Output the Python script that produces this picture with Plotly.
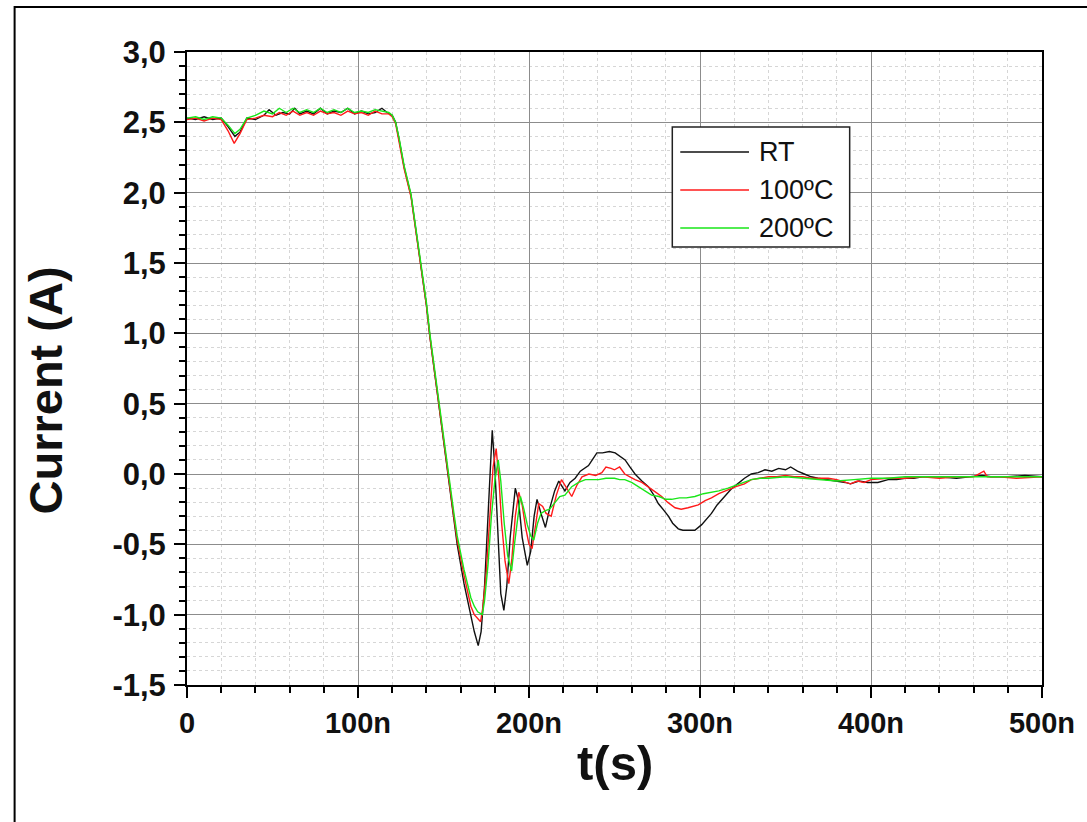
import plotly.graph_objects as go

# ---------------- data (time in ns, current in A) ----------------
t_rt = [0, 5, 10, 15, 20, 24, 28, 31, 35, 40, 45, 48, 52, 56, 60, 63, 66, 70, 74, 78, 82, 86, 90, 94, 98,
        102, 106, 110, 114, 117, 120, 122, 124, 127, 131, 134, 137, 140, 142, 145, 147, 150, 153, 156, 158,
        162, 166, 168, 170.3, 172, 174, 176, 178.5, 180, 182, 183.5, 185.3, 187, 189, 192, 194, 196, 199,
        201, 203, 204.7, 207, 209.6, 212, 215, 217.4, 219, 221, 224, 227, 230, 234.8, 237, 239.7, 243, 247,
        250.4, 253, 256.2, 259, 262, 266, 269.8, 273, 275.6, 279, 281.5, 284, 287.3, 290, 294, 297, 301,
        304, 306.7, 310, 314.5, 318, 322, 326, 330, 334, 338, 342, 346, 350, 353, 357, 361, 365, 369, 375,
        380, 385, 388, 393, 398, 404, 410, 415, 420, 425, 430, 440, 450, 460, 465, 470, 480, 490, 500]
i_rt = [2.53, 2.52, 2.54, 2.52, 2.53, 2.47, 2.40, 2.43, 2.53, 2.52, 2.55, 2.59, 2.55, 2.57, 2.56, 2.60,
        2.56, 2.58, 2.56, 2.60, 2.56, 2.58, 2.57, 2.60, 2.56, 2.58, 2.56, 2.57, 2.60, 2.57, 2.55, 2.50,
        2.38, 2.18, 1.98, 1.72, 1.47, 1.20, 0.98, 0.70, 0.50, 0.22, -0.03, -0.32, -0.50, -0.78, -1.02,
        -1.12, -1.22, -1.12, -0.80, -0.30, 0.31, 0.05, -0.50, -0.85, -0.97, -0.80, -0.45, -0.10, -0.20,
        -0.45, -0.65, -0.55, -0.30, -0.18, -0.28, -0.38, -0.25, -0.12, -0.05, -0.08, -0.12, -0.06, -0.03,
        0.02, 0.06, 0.10, 0.15, 0.15, 0.16, 0.15, 0.13, 0.10, 0.05, 0.0, -0.05, -0.09, -0.15, -0.21, -0.26,
        -0.30, -0.35, -0.39, -0.40, -0.40, -0.40, -0.36, -0.32, -0.28, -0.22, -0.16, -0.11, -0.07, -0.03,
        0.0, 0.01, 0.03, 0.02, 0.04, 0.03, 0.05, 0.02, 0.0, -0.02, -0.03, -0.04, -0.05, -0.06, -0.07,
        -0.05, -0.06, -0.06, -0.04, -0.04, -0.03, -0.03, -0.02, -0.02, -0.03, -0.02, -0.01, -0.02, -0.02,
        -0.01, -0.02]

t_100 = [0, 5, 10, 15, 20, 24, 27.6, 31, 35, 40, 45, 50, 54, 58, 62, 66, 70, 74, 78, 82, 86, 90, 94, 98,
         102, 106, 110, 114, 118, 120, 122, 124, 127, 131, 134, 137, 140, 142, 145, 147, 150, 153, 156, 158,
         162, 166, 168, 171.7, 173, 175, 177, 179, 180.8, 182.5, 184, 186, 188.2, 190, 192, 194, 196, 198,
         200, 201.8, 204, 205.7, 208, 210, 213, 216, 219, 222, 225, 228, 231, 235, 239, 242.6, 245, 248,
         250, 253, 256, 259, 262, 266, 269.8, 273, 277.6, 281, 285.4, 289, 293, 296, 299, 303, 306.7, 311,
         316.4, 321, 326, 330, 335, 340, 345, 350, 355, 360, 365, 370, 375, 380, 385, 388, 392, 396, 400,
         410, 420, 430, 440, 450, 460, 466, 468, 475, 485, 495, 500]
i_100 = [2.52, 2.53, 2.51, 2.53, 2.52, 2.44, 2.35, 2.42, 2.52, 2.53, 2.55, 2.54, 2.57, 2.55, 2.58, 2.55,
         2.57, 2.55, 2.58, 2.56, 2.57, 2.55, 2.58, 2.56, 2.57, 2.55, 2.58, 2.56, 2.56, 2.54, 2.49, 2.37,
         2.17, 1.97, 1.72, 1.46, 1.20, 0.98, 0.70, 0.50, 0.23, -0.02, -0.30, -0.47, -0.72, -0.94, -1.00,
         -1.05, -0.95, -0.70, -0.30, 0.05, 0.18, -0.05, -0.35, -0.62, -0.78, -0.60, -0.30, -0.13, -0.22,
         -0.38, -0.50, -0.53, -0.35, -0.21, -0.23, -0.28, -0.30, -0.15, -0.04, -0.10, -0.16, -0.08, -0.02,
         0.0, -0.01, 0.01, 0.05, 0.04, 0.03, 0.05, 0.0, -0.02, -0.04, -0.06, -0.09, -0.12, -0.16, -0.20,
         -0.24, -0.25, -0.24, -0.23, -0.22, -0.19, -0.17, -0.14, -0.11, -0.09, -0.07, -0.04, -0.03, -0.02,
         -0.02, -0.01, -0.02, -0.02, -0.03, -0.03, -0.03, -0.04, -0.06, -0.07, -0.05, -0.06, -0.04, -0.03,
         -0.03, -0.02, -0.03, -0.02, -0.02, 0.02, -0.02, -0.02, -0.03, -0.02, -0.02]

t_200 = [0, 5, 10, 15, 20, 24, 28, 31, 35, 40, 45, 50, 54, 58, 62, 66, 70, 74, 78, 82, 86, 90, 94, 98,
         102, 106, 110, 114, 118, 120, 122, 124, 127, 131, 134, 137, 140, 142, 145, 147, 150, 153, 156, 158,
         162, 166, 168, 170, 172.7, 174, 176, 178, 180, 182, 183.5, 185.5, 187.5, 189.8, 191.5, 193.5, 195,
         197, 199, 201, 202.8, 205, 207, 209.6, 212, 215.4, 218, 221, 225, 229, 233, 237, 240.7, 245, 250,
         253, 256, 260, 264, 268, 271.7, 276, 280, 283.4, 288, 292, 297, 302, 306.7, 311, 316.4, 321, 326,
         330, 335, 340, 350, 360, 370, 380, 390, 400, 410, 420, 430, 440, 450, 460, 470, 480, 490, 500]
i_200 = [2.53, 2.54, 2.52, 2.54, 2.53, 2.48, 2.42, 2.45, 2.53, 2.55, 2.58, 2.56, 2.60, 2.57, 2.60, 2.57,
         2.59, 2.57, 2.60, 2.57, 2.59, 2.57, 2.60, 2.57, 2.58, 2.57, 2.59, 2.58, 2.57, 2.55, 2.50, 2.39,
         2.19, 1.99, 1.74, 1.49, 1.22, 1.00, 0.72, 0.52, 0.25, 0.0, -0.27, -0.44, -0.68, -0.88, -0.94,
         -0.98, -1.00, -0.90, -0.65, -0.30, -0.05, 0.10, -0.05, -0.35, -0.58, -0.69, -0.50, -0.28, -0.16,
         -0.25, -0.36, -0.44, -0.47, -0.35, -0.28, -0.26, -0.25, -0.20, -0.16, -0.15, -0.09, -0.06, -0.04,
         -0.04, -0.04, -0.03, -0.03, -0.04, -0.04, -0.06, -0.09, -0.12, -0.15, -0.16, -0.18, -0.18, -0.17,
         -0.17, -0.16, -0.14, -0.13, -0.12, -0.10, -0.08, -0.06, -0.04, -0.03, -0.03, -0.02, -0.03, -0.04,
         -0.05, -0.04, -0.03, -0.03, -0.02, -0.02, -0.02, -0.02, -0.02, -0.02, -0.02, -0.02, -0.02]

series_names = ["RT", "100ºC", "200ºC"]
series_colors = ["#111111", "#ff1a1a", "#19e619"]

x_tickvals = [0, 100, 200, 300, 400, 500]
x_ticktext = ["0", "100n", "200n", "300n", "400n", "500n"]
y_tickvals = [-1.5, -1.0, -0.5, 0.0, 0.5, 1.0, 1.5, 2.0, 2.5, 3.0]
y_ticktext = ["-1,5", "-1,0", "-0,5", "0,0", "0,5", "1,0", "1,5", "2,0", "2,5", "3,0"]

# ---------------- figure ----------------
fig = go.Figure()
for t, i, name, col in zip([t_rt, t_100, t_200], [i_rt, i_100, i_200], series_names, series_colors):
    fig.add_trace(go.Scatter(x=t, y=i, mode="lines", name=name,
                             line=dict(color=col, width=1.4), showlegend=False))

W, H = 1087, 822
L, R, T, B = 187, 1045, 52, 685
pw, ph = R - L, B - T


def px(xp):
    return (xp - L) / pw


def py(yp):
    return (B - yp) / ph


FONT = "Liberation Sans, Arial, sans-serif"
axis_common = dict(showline=True, linecolor="black", linewidth=2, mirror=True,
                   ticks="outside", ticklen=11, tickwidth=2, tickcolor="black",
                   showgrid=True, gridcolor="#8c8c8c", gridwidth=1.3, zeroline=False)

minor_common = dict(ticks="outside", ticklen=6, tickwidth=1.5, tickcolor="black",
                    showgrid=True, gridcolor="#d6d6d6", griddash="dot", gridwidth=1)

fig.update_xaxes(range=[0, 500], tickvals=x_tickvals, ticktext=[f"<b>{s}</b>" for s in x_ticktext],
                 ticklabelstandoff=0, tickfont=dict(family=FONT, size=29, color="#111111"),
                 minor=dict(dtick=20, tick0=0, **minor_common), **axis_common)
fig.update_yaxes(range=[-1.5, 3.0], tickvals=y_tickvals, ticktext=[f"<b>{s}</b>" for s in y_ticktext],
                 ticklabelstandoff=2, tickfont=dict(family=FONT, size=31, color="#111111"),
                 minor=dict(dtick=0.1, tick0=0, **minor_common), **axis_common)

shapes = [
    # outer frame
    dict(type="rect", xref="paper", yref="paper", x0=px(14), x1=px(1100), y0=py(835), y1=py(7),
         line=dict(color="black", width=2), layer="below"),
    # legend box
    dict(type="rect", xref="paper", yref="paper", x0=px(674), x1=px(852), y0=py(247), y1=py(127),
         line=dict(color="#222222", width=1.5), fillcolor="white"),
]
annotations = []
leg_y = [152, 190, 228]
for name, col, yy in zip(series_names, series_colors, leg_y):
    shapes.append(dict(type="line", xref="paper", yref="paper", x0=px(682), x1=px(751), y0=py(yy), y1=py(yy),
                       line=dict(color=col, width=1.6)))
    annotations.append(dict(xref="paper", yref="paper", x=px(759), y=py(yy), text=name, showarrow=False,
                            xanchor="left", yanchor="middle",
                            font=dict(family=FONT, size=27, color="#111111")))

annotations.append(dict(xref="paper", yref="paper", x=px(45), y=py(390), text="<b>Current (A)</b>",
                        textangle=-90, showarrow=False, xanchor="center", yanchor="middle",
                        font=dict(family=FONT, size=47, color="#111111")))
annotations.append(dict(xref="paper", yref="paper", x=0.5, y=py(763), text="<b>t(s)</b>",
                        showarrow=False, xanchor="center", yanchor="middle",
                        font=dict(family=FONT, size=49, color="#111111")))

fig.update_layout(width=W, height=H, margin=dict(l=L, r=W - R, t=T, b=H - B),
                  paper_bgcolor="white", plot_bgcolor="white", shapes=shapes, annotations=annotations,
                  showlegend=False)

fig.write_html("out.html")
